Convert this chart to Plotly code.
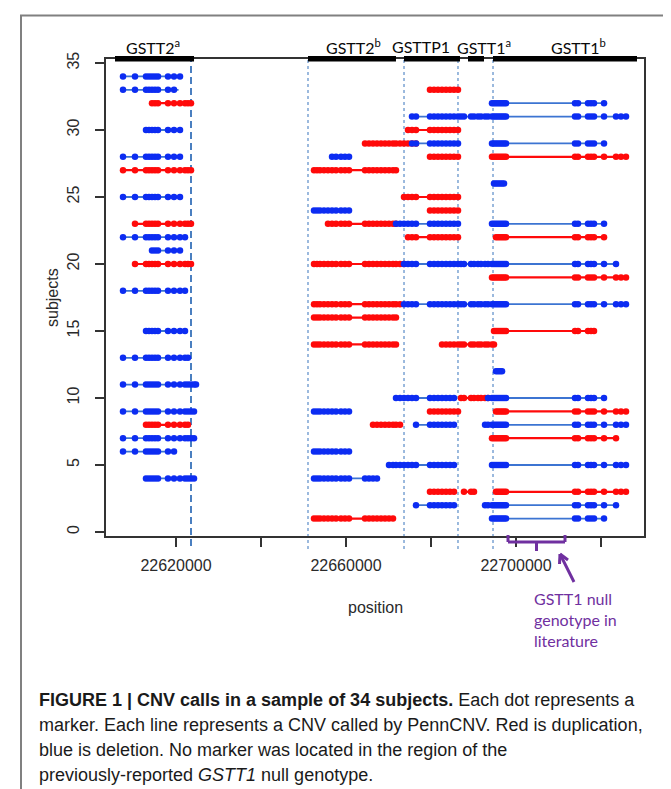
import plotly.graph_objects as go

# ---------------- data ----------------
# marker (probe) positions, bp
MARKERS_BP = [
    # GSTT2a region
    22607530, 22610350, 22612940, 22613650, 22614350, 22615060, 22615760,
    22618120, 22619530, 22620940, 22622120, 22622820, 22623530, 22624240, 22624710,
    # GSTT2b region
    22652470, 22653180, 22653880, 22654820, 22655760, 22656710, 22657650,
    22658820, 22659760, 22660710, 22664470, 22665410, 22666350, 22667290,
    22668240, 22669180, 22670120, 22671060, 22671760, 22672710, 22673650,
    # GSTTP1 region
    22674590, 22675530, 22676470, 22679760, 22680710, 22681650, 22682590,
    22683530, 22684470, 22685410, 22686350,
    # GSTT1a region
    22687060, 22687760, 22689410, 22690120, 22691060, 22691760, 22692710, 22693410,
    # GSTT1b region
    22694350, 22694820, 22695290, 22695760, 22696240, 22696710, 22697180, 22697650,
    22713880, 22714590, 22716940, 22717650, 22718350, 22720710, 22723530,
    22724710, 22725880,
]

# CNV calls: subject, start, end, type
CNV_SUBJECT = [
    34,
    33, 33,
    32, 32,
    31,
    30, 30,
    29, 29, 29,
    28, 28, 28, 28,
    27, 27,
    26,
    25, 25,
    24, 24,
    23, 23, 23, 23,
    22, 22, 22,
    21,
    20, 20, 20,
    19,
    18,
    17, 17,
    16,
    15, 15,
    14, 14,
    13,
    12,
    11,
    10, 10, 10,
    9, 9, 9, 9,
    8, 8, 8, 8,
    7, 7,
    6, 6,
    5, 5,
    4, 4,
    3, 3, 3,
    2, 2,
    1, 1,
]
CNV_START = [
    22607530,
    22607530, 22679290,
    22614350, 22694350,
    22675290,
    22612940, 22673880,
    22664470, 22675290, 22694350,
    22607530, 22656710, 22679290, 22694350,
    22607530, 22652470,
    22694820,
    22607530, 22672940,
    22652470, 22679290,
    22610350, 22655760, 22671760, 22694350,
    22607530, 22673880, 22695060,
    22614350,
    22610350, 22652470, 22673650,
    22694350,
    22607530,
    22652470, 22672940,
    22652470,
    22612940, 22694820,
    22652470, 22682590,
    22607530,
    22695290,
    22607530,
    22671760, 22687060, 22693410,
    22607530, 22652470, 22679530, 22695290,
    22612940, 22666350, 22676240, 22692710,
    22607530, 22694350,
    22607530, 22652470,
    22670120, 22694350,
    22612940, 22652470,
    22679530, 22687530, 22695060,
    22676240, 22692710,
    22652470, 22694350,
]
CNV_END = [
    22620940,
    22620600, 22686350,
    22623530, 22720710,
    22725880,
    22620940, 22686590,
    22676470, 22686590, 22720710,
    22620940, 22660710, 22686820, 22725880,
    22623530, 22671760,
    22697180,
    22620940, 22686350,
    22660940, 22686820,
    22623530, 22671760, 22686820, 22720940,
    22622120, 22686590, 22720940,
    22620940,
    22623530, 22673650, 22723530,
    22725880,
    22622120,
    22672940, 22725880,
    22671760,
    22622120, 22718590,
    22671760, 22695060,
    22622820,
    22696940,
    22624710,
    22685880, 22693410, 22720710,
    22624240, 22660940, 22686590, 22725880,
    22622820, 22673410, 22685880, 22725880,
    22624240, 22723760,
    22619530, 22660940,
    22685880, 22725880,
    22624240, 22667530,
    22685880, 22690590, 22725880,
    22685880, 22723530,
    22671530, 22720710,
]
CNV_TYPE = [
    "del",
    "del", "dup",
    "dup", "del",
    "del",
    "del", "dup",
    "dup", "del", "del",
    "del", "del", "dup", "dup",
    "dup", "dup",
    "del",
    "del", "dup",
    "del", "dup",
    "dup", "dup", "del", "del",
    "del", "dup", "dup",
    "del",
    "dup", "dup", "del",
    "dup",
    "del",
    "dup", "del",
    "dup",
    "del", "dup",
    "dup", "dup",
    "del",
    "del",
    "del",
    "del", "dup", "del",
    "del", "del", "dup", "dup",
    "dup", "dup", "del", "del",
    "del", "dup",
    "del", "del",
    "del", "del",
    "del", "del",
    "dup", "dup", "dup",
    "del", "del",
    "dup", "del",
]

GENE_NAMES = ["GSTT2<sup>a</sup>", "GSTT2<sup>b</sup>", "GSTTP1",
              "GSTT1<sup>a</sup>", "GSTT1<sup>b</sup>"]
GENE_LABEL_POS = [22614590, 22661880, 22677650, 22692470, 22714590]
GENE_BAR_START = [22605650, 22651060, 22673650, 22688710, 22694590]
GENE_BAR_END = [22624240, 22671760, 22686820, 22692470, 22728470]

BOUNDARY_MAIN = [22623530]
BOUNDARY_OTHER = [22651060, 22673650, 22686350, 22694590]

NULL_REGION = [22698120, 22711530]

X_TICKS_LABELLED = [22620000, 22660000, 22700000]
X_TICK_TEXT = ["22620000", "22660000", "22700000"]
X_TICKS_ALL = [22620000, 22640000, 22660000, 22680000, 22700000, 22720000]
Y_TICKS = [0, 5, 10, 15, 20, 25, 30, 35]

CAPTION_LINES = [
    "<b>FIGURE 1 | CNV calls in a sample of 34 subjects.</b> Each dot represents a",
    "marker. Each line represents a CNV called by PennCNV. Red is duplication,",
    "blue is deletion. No marker was located in the region of the",
    "previously-reported <i>GSTT1</i> null genotype.",
]

# ---------------- layout helpers ----------------
W, H = 671, 789
PL, PR, PT, PB = 98, 636, 51, 528


def px_x(px):
    return (px - PL) / (PR - PL)


def px_y(py):
    return (PB - py) / (PB - PT)


RED = "#ff0a0a"
BLUE_PT = "#0c2cf2"
BLUE_LN = "#3c74d2"
PURPLE = "#7030a0"
AX_FONT = dict(family="Liberation Sans, Arial, sans-serif", size=16, color="#2a2a2a")

fig = go.Figure()

for s, a, b, t in zip(CNV_SUBJECT, CNV_START, CNV_END, CNV_TYPE):
    lc = RED if t == "dup" else BLUE_LN
    pc = RED if t == "dup" else BLUE_PT
    fig.add_trace(go.Scatter(x=[a, b], y=[s, s], mode="lines",
                             line=dict(color=lc, width=2.2 if t == "dup" else 1.8),
                             hoverinfo="skip", showlegend=False))
    mk = [m for m in MARKERS_BP if a <= m <= b]
    fig.add_trace(go.Scatter(x=mk, y=[s] * len(mk), mode="markers",
                             marker=dict(color=pc, size=6.5, symbol="circle",
                                         line=dict(width=0)),
                             showlegend=False))

shapes = []
# boundaries
for xb in BOUNDARY_MAIN:
    shapes.append(dict(type="line", xref="x", yref="paper", x0=xb, x1=xb,
                       y0=px_y(538), y1=1, layer="below",
                       line=dict(color="#4a7fc0", width=2, dash="7px,4px")))
for xb in BOUNDARY_OTHER:
    shapes.append(dict(type="line", xref="x", yref="paper", x0=xb, x1=xb,
                       y0=px_y(541), y1=1, layer="below",
                       line=dict(color="#5a8cc8", width=1.2, dash="3px,3px")))
# gene bars
for a, b in zip(GENE_BAR_START, GENE_BAR_END):
    shapes.append(dict(type="rect", xref="x", yref="paper", x0=a, x1=b,
                       y0=px_y(53.5), y1=px_y(48), fillcolor="black",
                       line=dict(width=0), layer="above"))
# null-genotype bracket
xa, xb = NULL_REGION
xm = (xa + xb) / 2
for (x0, y0, x1, y1) in [(xa, 527, xa, 534), (xa, 534, xb, 534),
                         (xb, 534, xb, 527), (xm, 534, xm, 543)]:
    shapes.append(dict(type="line", xref="x", yref="paper", x0=x0, x1=x1,
                       y0=px_y(y0), y1=px_y(y1),
                       line=dict(color=PURPLE, width=3)))
# arrow (shaft + open head)
for (x0, y0, x1, y1) in [(566, 574, 552, 546), (552, 546, 551.5, 556),
                         (552, 546, 560, 552)]:
    shapes.append(dict(type="line", xref="paper", yref="paper",
                       x0=px_x(x0), x1=px_x(x1), y0=px_y(y0), y1=px_y(y1),
                       line=dict(color=PURPLE, width=3)))
# outer grey frame
shapes.append(dict(type="rect", xref="paper", yref="paper",
                   x0=px_x(13), x1=px_x(690), y0=px_y(810), y1=px_y(7.5),
                   line=dict(color="#808080", width=2), fillcolor="rgba(0,0,0,0)"))

annotations = []
for name, xpos in zip(GENE_NAMES, GENE_LABEL_POS):
    annotations.append(dict(x=xpos, y=px_y(38), xref="x", yref="paper",
                            text=name, showarrow=False, xanchor="center",
                            yanchor="middle",
                            font=dict(family="Lato, Open Sans, sans-serif",
                                      size=16, color="#0a0a0a")))
annotations.append(dict(x=px_x(44), y=px_y(290), xref="paper", yref="paper",
                        text="subjects", textangle=-90, showarrow=False,
                        xanchor="center", yanchor="middle", font=AX_FONT))
annotations.append(dict(x=px_x(367), y=px_y(599), xref="paper", yref="paper",
                        text="position", showarrow=False,
                        xanchor="center", yanchor="middle", font=AX_FONT))
annotations.append(dict(x=px_x(524), y=px_y(579), xref="paper", yref="paper",
                        text="GSTT1 null<br>genotype in<br>literature",
                        showarrow=False, xanchor="left", yanchor="top",
                        align="left",
                        font=dict(family="Lato, Open Sans, sans-serif",
                                  size=16, color=PURPLE)))
for i, line in enumerate(CAPTION_LINES):
    annotations.append(dict(x=px_x(29), y=px_y(692 + 25 * i), xref="paper",
                            yref="paper", text=line, showarrow=False,
                            xanchor="left", yanchor="middle", align="left",
                            font=dict(family="Liberation Sans, Arial, sans-serif",
                                      size=18, color="#1a1a1a")))

fig.update_layout(
    width=W, height=H, autosize=False,
    margin=dict(l=PL, r=W - PR, t=PT, b=H - PB, pad=0),
    paper_bgcolor="white", plot_bgcolor="white",
    showlegend=False,
    shapes=shapes, annotations=annotations,
    xaxis=dict(range=[22603530, 22730118], tickmode="array",
               tickvals=X_TICKS_LABELLED, ticktext=X_TICK_TEXT,
               ticks="outside", ticklen=9, tickwidth=1.5, tickcolor="#333",
               minor=dict(tickmode="array", tickvals=X_TICKS_ALL,
                          ticks="outside", ticklen=9, tickwidth=1.5,
                          tickcolor="#333", showgrid=False),
               showline=True, mirror=True, linecolor="#333", linewidth=1.5,
               showgrid=False, zeroline=False, tickfont=AX_FONT,
               ticklabelstandoff=5),
    yaxis=dict(range=[-0.3, 35.3], tickmode="array", tickvals=Y_TICKS,
               ticks="outside", ticklen=9, tickwidth=1.5, tickcolor="#333",
               showline=True, mirror=True, linecolor="#333", linewidth=1.5,
               showgrid=False, zeroline=False, tickfont=AX_FONT,
               tickangle=-90, ticklabelstandoff=10),
)

fig.write_html("out.html")
